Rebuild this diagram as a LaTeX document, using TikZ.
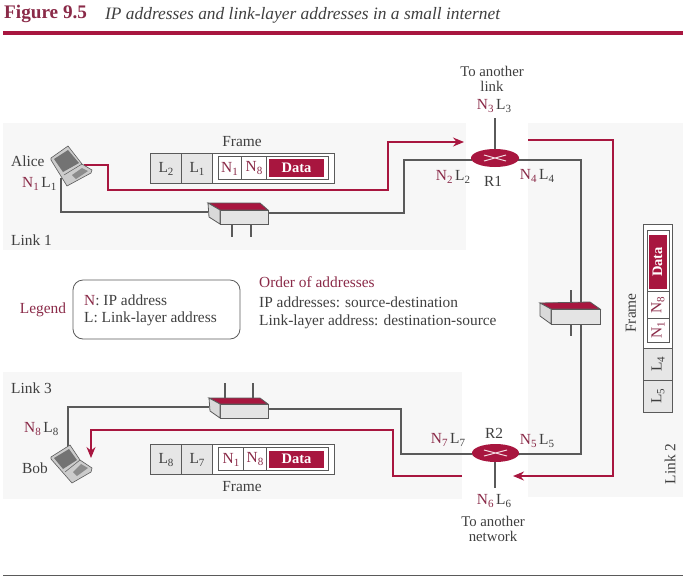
\documentclass[tikz,border=0pt]{standalone}
\usepackage{fontspec}
\setmainfont{Liberation Serif}
\usetikzlibrary{arrows.meta}
\definecolor{crim}{HTML}{A8163F}
\definecolor{ink}{HTML}{3F3F3F}
\definecolor{wire}{HTML}{5A5A5A}
\definecolor{panel}{HTML}{F7F7F7}
\definecolor{cell}{HTML}{E6E6E6}
\definecolor{hubf}{HTML}{E4E4E4}
\definecolor{maroon}{HTML}{8A2A48}
\newcommand{\subn}[1]{\raisebox{-3pt}{\fontsize{11}{11}\selectfont #1}}
\newcommand{\Na}[1]{\textcolor{maroon}{N\subn{#1}}}
\newcommand{\La}[1]{L\subn{#1}}
\tikzset{
 txt/.style={font=\fontsize{15.4}{16}\selectfont,text=ink,inner sep=0pt,align=center},
 datatxt/.style={fill=crim,inner sep=0pt,text=white,font=\fontsize{14.5}{15}\selectfont\bfseries},
 graywire/.style={draw=wire,line width=1.1pt},
 redwire/.style={draw=crim,line width=1.3pt},
 redarrow/.style={redwire,-{Stealth[length=11pt,width=9pt]}},
 outl/.style={draw=wire,line width=.8pt},
 lap/.style={draw=wire,line width=.6pt,fill=white!80!black},
}
\begin{document}
\begin{tikzpicture}[x=1pt,y=-1pt]
\useasboundingbox (0,0) rectangle (690,579);
% panels
\fill[panel] (3,123) rectangle (466,250);
\fill[panel] (3,372) rectangle (462,499);
\fill[panel] (528,123) rectangle (683,497);
% title and rules
\node[anchor=west,inner sep=0pt,font=\fontsize{19.2}{20}\selectfont\bfseries,text=maroon] (ttl) at (4,14) {Figure 9.5};
\node[anchor=west,inner sep=0pt,font=\fontsize{17.4}{18}\selectfont\itshape,text=ink] (ttl2) at (105,15) {IP addresses and link-layer addresses in a small internet};
\fill[crim] (3,31) rectangle (683,34.5);
\fill[wire] (3,574.5) rectangle (683,576);
% named anchors
\coordinate (a1) at (61,178); \coordinate (a2) at (61,212);
\coordinate (hAl) at (208,212); \coordinate (hAr) at (268,213);
\coordinate (g1) at (404,213); \coordinate (g2) at (404,160);
\coordinate (r1l) at (472,160); \coordinate (r1r) at (518,160);
\coordinate (r1t) at (495,118); \coordinate (r1c) at (495,152);
\coordinate (g3) at (581,160); \coordinate (g4) at (581,454);
\coordinate (r2r) at (518,454); \coordinate (r2l) at (472,454);
\coordinate (r2c) at (495,460); \coordinate (r2b) at (495,488);
\coordinate (g5) at (401,454); \coordinate (g6) at (401,409);
\coordinate (hBr) at (268,409); \coordinate (hBl) at (209,407);
\coordinate (g7) at (68,407); \coordinate (g8) at (68,447);
% gray links
\draw[graywire] (a1) -- (a2) -- (hAl);
\draw[graywire] (hAr) -- (g1) -- (g2) -- (r1l);
\draw[graywire] (r1t) -- (r1c);
\draw[graywire] (r1r) -- (g3) -- (g4) -- (r2r);
\draw[graywire] (r2c) -- (r2b);
\draw[graywire] (r2l) -- (g5) -- (g6) -- (hBr);
\draw[graywire] (hBl) -- (g7) -- (g8);
% red paths
\coordinate (p1) at (84,165); \coordinate (p2) at (108,165); \coordinate (p3) at (108,190);
\coordinate (p4) at (388,190); \coordinate (p5) at (388,142); \coordinate (p6) at (464,142);
\draw[redarrow] (p1) -- (p2) -- (p3) -- (p4) -- (p5) -- (p6);
\coordinate (q1) at (528,140); \coordinate (q2) at (613,140); \coordinate (q3) at (613,476); \coordinate (q4) at (513,476);
\draw[redarrow] (q1) -- (q2) -- (q3) -- (q4);
\coordinate (s1) at (462,476); \coordinate (s2) at (393,476); \coordinate (s3) at (393,430); \coordinate (s4) at (91,430); \coordinate (s5) at (91,458);
\draw[redarrow] (s1) -- (s2) -- (s3) -- (s4) -- (s5);
% hub A
\draw[graywire] (232,224) -- (232,237) (251,224) -- (251,237);
\filldraw[outl,fill=crim] (208,203) -- (260,203) -- (268,210) -- (220,210) -- cycle;
\filldraw[outl,fill=hubf] (220,210) rectangle (268,224);
\filldraw[outl,fill=white!85!black] (208,203) -- (220,210) -- (220,224) -- (209,217) -- cycle;
% hub B
\draw[graywire] (225,383) -- (225,398) (253,383) -- (253,398);
\filldraw[outl,fill=crim] (209,398) -- (260,398) -- (268,404) -- (220,404) -- cycle;
\filldraw[outl,fill=hubf] (220,404) rectangle (268,418);
\filldraw[outl,fill=white!85!black] (209,398) -- (220,404) -- (220,418) -- (210,411) -- cycle;
% hub C
\draw[graywire] (571,290) -- (571,303) (571,324) -- (571,336);
\filldraw[outl,fill=crim] (540,303) -- (590,302) -- (600,309) -- (551,309) -- cycle;
\filldraw[outl,fill=hubf] (551,309) rectangle (600,324);
\filldraw[outl,fill=white!85!black] (540,303) -- (551,309) -- (551,324) -- (540,316) -- cycle;
% routers
\fill[wire!70!black] (471,161) arc[start angle=180,end angle=360,x radius=24,y radius=8.5] -- (519,158) -- (471,158) -- cycle;
\fill[crim] (495,158) ellipse[x radius=24,y radius=9];
\draw[white!85!crim,line width=1pt] (484,155) -- (506,161) (484,161) -- (506,155);
\fill[wire!70!black] (472,456) arc[start angle=180,end angle=360,x radius=23.5,y radius=7.5] -- (519,453) -- (472,453) -- cycle;
\fill[crim] (495.5,453) ellipse[x radius=23.5,y radius=9];
\draw[white!85!crim,line width=1pt] (484,450) -- (507,456) (484,456) -- (507,450);
% laptop Alice
\filldraw[lap] (51,158) -- (68,146) -- (82,164) -- (92,170) -- (91,173) -- (67,186) -- (51,160) -- cycle;
\fill[white!45!black] (54,159) -- (68,150) -- (79,163) -- (63,172) -- cycle;
\draw[wire,line width=.5pt] (64,175) -- (82,164);
\fill[white!55!black] (72,175) -- (82,168) -- (88,171) -- (76,179) -- cycle;
% laptop Bob
\filldraw[lap] (51,457) -- (70,445) -- (80,460) -- (92,468) -- (91,472) -- (72,483) -- (51,459) -- cycle;
\fill[white!45!black] (54,458) -- (69,449) -- (77,460) -- (63,469) -- cycle;
\draw[wire,line width=.5pt] (65,472) -- (80,460);
\fill[white!55!black] (73,472) -- (81,464) -- (88,468) -- (77,476) -- cycle;
% frames
\filldraw[outl,fill=white] (150,153) rectangle (334,183);
\filldraw[outl,fill=cell] (150,153) rectangle (181,183);
\filldraw[outl,fill=cell] (181,153) rectangle (212,183);
\draw[outl] (218,156.5) rectangle (328,179.5) (241,156.5) -- (241,179.5) (266,156.5) -- (266,179.5);
\node[datatxt,minimum width=55pt,minimum height=18pt] (d1) at (296.5,168) {Data};
\node[txt] (f1a) at (166,169) {\La{2}};
\node[txt] (f1b) at (197,169) {\La{1}};
\node[txt] (f1c) at (229.5,168.5) {\Na{1}};
\node[txt] (f1d) at (254,168.5) {\Na{8}};
\filldraw[outl,fill=white] (150,444) rectangle (334,474);
\filldraw[outl,fill=cell] (150,444) rectangle (181,474);
\filldraw[outl,fill=cell] (181,444) rectangle (212,474);
\draw[outl] (218,447.5) rectangle (328,470.5) (243,447.5) -- (243,470.5) (266,447.5) -- (266,470.5);
\node[datatxt,minimum width=55pt,minimum height=17pt] (d2) at (296.5,459) {Data};
\node[txt] (f2a) at (166,460) {\La{8}};
\node[txt] (f2b) at (197,460) {\La{7}};
\node[txt] (f2c) at (231,459.5) {\Na{1}};
\node[txt] (f2d) at (255,459.5) {\Na{8}};
% vertical frame
\filldraw[outl,fill=white] (643,224) rectangle (672,412);
\filldraw[outl,fill=cell] (643,348) rectangle (672,380);
\filldraw[outl,fill=cell] (643,380) rectangle (672,412);
\draw[outl] (647,230) rectangle (669,342) (647,291) -- (669,291) (647,318) -- (669,318);
\node[datatxt,minimum width=54pt,minimum height=18pt,rotate=90] (d3) at (657.5,262) {Data};
\node[txt,rotate=90] (f3a) at (658,396) {\La{5}};
\node[txt,rotate=90] (f3b) at (658,364) {\La{4}};
\node[txt,rotate=90] (f3c) at (658,330) {\Na{1}};
\node[txt,rotate=90] (f3d) at (658,305) {\Na{8}};
% labels
\node[txt] (frm1) at (242,142) {Frame};
\node[txt] (frm2) at (242,487) {Frame};
\node[txt,rotate=90] (frm3) at (631,313) {Frame};
\node[txt,anchor=west] (alice) at (11,161) {Alice};
\node[txt,anchor=west] (bob) at (22,468) {Bob};
\node[txt,anchor=west] (nl1) at (22,184) {\Na{1}\,\La{1}};
\node[txt,anchor=west] (nl8) at (24,429) {\Na{8}\,\La{8}};
\node[txt,anchor=west] (lk1) at (11,240) {Link 1};
\node[txt,anchor=west] (lk3) at (11,388) {Link 3};
\node[txt,rotate=90] (lk2) at (670,464) {Link 2};
\node[txt] (r1) at (493,181) {R1};
\node[txt] (r2) at (494,433) {R2};
\node[txt] (nl2) at (453,177) {\Na{2}\,\La{2}};
\node[txt] (nl4) at (537,176) {\Na{4}\,\La{4}};
\node[txt] (nl7) at (448,440) {\Na{7}\,\La{7}};
\node[txt] (nl5) at (537,441) {\Na{5}\,\La{5}};
\node[txt] (nl3) at (494,106) {\Na{3}\,\La{3}};
\node[txt] (nl6) at (494,501) {\Na{6}\,\La{6}};
\node[txt,font=\fontsize{14.8}{14.5}\selectfont] (up) at (492,79) {To another\\link};
\node[txt,font=\fontsize{14.8}{14.5}\selectfont] (dn) at (493,529) {To another\\network};
% legend
\draw[outl,rounded corners=10pt] (73,280) rectangle (240,339);
\node[txt,text=maroon] (leg) at (43,310) {Legend};
\node[txt,anchor=west] (lg1) at (84,300) {\textcolor{maroon}{N}: IP address};
\node[txt,anchor=west] (lg2) at (84,319) {L: Link-layer address};
\node[txt,anchor=west,text=maroon] (ord) at (259,282) {Order of addresses};
\node[txt,anchor=west] (o1) at (259,302) {IP addresses: source-destination};
\node[txt,anchor=west] (o2) at (259,322) {Link-layer address: destination-source};
\end{tikzpicture}
\end{document}
